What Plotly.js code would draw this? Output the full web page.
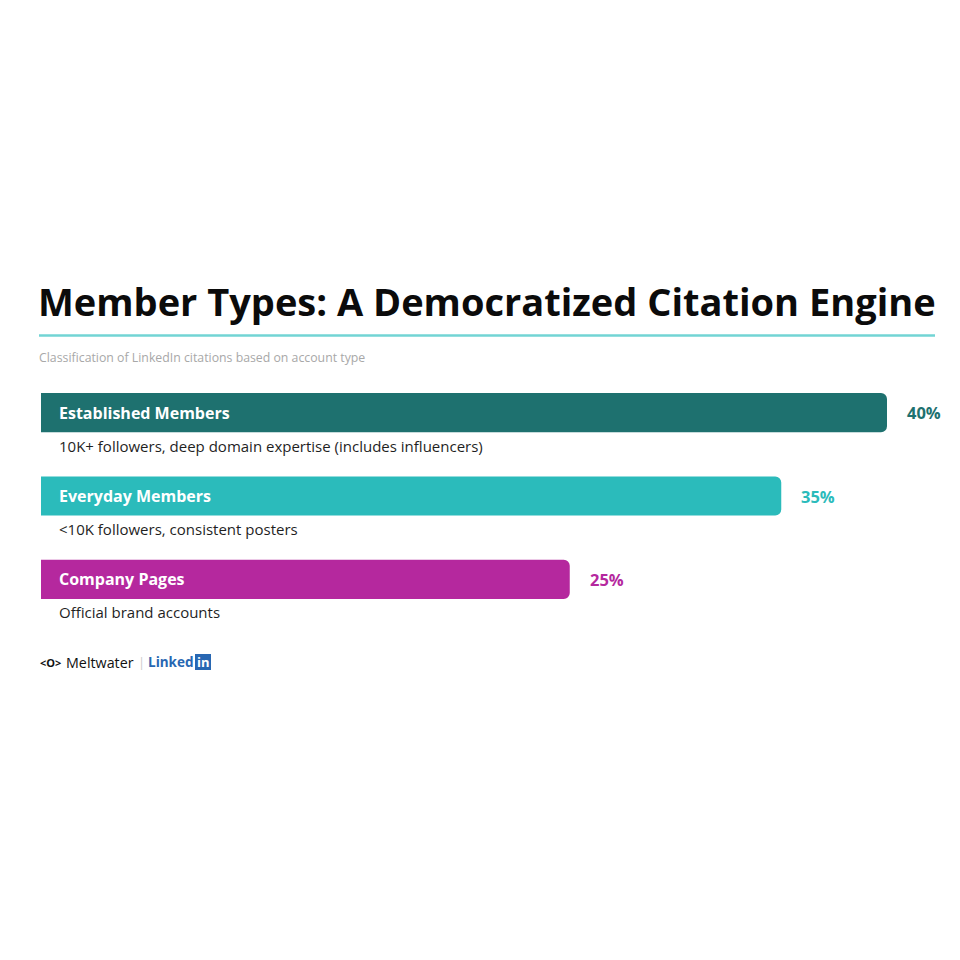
<!DOCTYPE html>
<html>
<head>
<meta charset="utf-8">
<script src="https://cdn.plot.ly/plotly-3.0.1.min.js"></script>
<style>html,body{margin:0;padding:0;background:#fff;}#chart{width:960px;height:960px;}</style>
</head>
<body>
<div id="chart"></div>
<script>
// ---- data ----
const categories = ["Established Members", "Everyday Members", "Company Pages"];
const shares = [40, 35, 25];
const descriptions = [
  "10K+ followers, deep domain expertise (includes influencers)",
  "<10K followers, consistent posters",
  "Official brand accounts"
];
const barColors = ["#1E716F", "#2BBBBB", "#B5289E"];
const titleText = "Member Types: A Democratized Citation Engine";
const subtitleText = "Classification of LinkedIn citations based on account type";

// ---- layout geometry ----
const W = 960, H = 960;
const L = 41, R = 887, T = 371, B = 621;
const px2x = p => (p - L) / (R - L);
const py2y = p => (B - p) / (B - T);
const FONT = "Open Sans, sans-serif";

const trace = {
  type: "bar",
  orientation: "h",
  y: categories,
  x: shares,
  width: 0.47,
  marker: {color: barColors, line: {width: 0}},
  hoverinfo: "skip"
};

const annotations = [];
categories.forEach((c, i) => {
  annotations.push({
    xref: "x", yref: "y", x: 0, y: c, xshift: 16,
    xanchor: "left", yanchor: "middle", showarrow: false,
    text: "<b>" + c + "</b>",
    font: {family: FONT, size: 16, color: "#ffffff"}
  });
  annotations.push({
    xref: "x", yref: "y", x: 0, y: c, xshift: 16, yshift: -33,
    xanchor: "left", yanchor: "middle", showarrow: false,
    text: descriptions[i].replace("<", "&lt;"),
    font: {family: FONT, size: 15, color: "#1f1f1f"}
  });
  annotations.push({
    xref: "x", yref: "y", x: shares[i], y: c, xshift: 18,
    xanchor: "left", yanchor: "middle", showarrow: false,
    text: "<b>" + shares[i] + "%</b>",
    font: {family: FONT, size: 16.5, color: barColors[i]}
  });
});

// subtitle
annotations.push({
  xref: "paper", yref: "paper", x: px2x(37), y: py2y(357),
  xanchor: "left", yanchor: "middle", showarrow: false,
  text: subtitleText,
  font: {family: FONT, size: 12.3, color: "#a8a8a8"}
});

// footer logos
annotations.push({
  xref: "paper", yref: "paper", x: px2x(38), y: py2y(662),
  xanchor: "left", yanchor: "middle", showarrow: false,
  text: "<b>&lt;O&gt;</b>",
  font: {family: FONT, size: 11, color: "#111"}
});
annotations.push({
  xref: "paper", yref: "paper", x: px2x(64), y: py2y(662),
  xanchor: "left", yanchor: "middle", showarrow: false,
  text: "Meltwater",
  font: {family: FONT, size: 14.3, color: "#111"}
});
annotations.push({
  xref: "paper", yref: "paper", x: px2x(141), y: py2y(662),
  xanchor: "center", yanchor: "middle", showarrow: false,
  text: "|",
  font: {family: FONT, size: 13, color: "#cccccc"}
});
annotations.push({
  xref: "paper", yref: "paper", x: px2x(146), y: py2y(662),
  xanchor: "left", yanchor: "middle", showarrow: false,
  text: "<b>Linked</b>",
  font: {family: FONT, size: 13.5, color: "#2867B2"}
});
annotations.push({
  xref: "paper", yref: "paper", x: px2x(203), y: py2y(662),
  xanchor: "center", yanchor: "middle", showarrow: false,
  text: "<b>in</b>",
  font: {family: FONT, size: 13, color: "#ffffff"}
});

const shapes = [
  {type: "line", xref: "paper", yref: "paper",
   x0: px2x(39), x1: px2x(935), y0: py2y(335.5), y1: py2y(335.5),
   line: {color: "#72D4D4", width: 2.5}},
  {type: "rect", xref: "paper", yref: "paper", layer: "below",
   x0: px2x(195), x1: px2x(211), y0: py2y(670), y1: py2y(654),
   fillcolor: "#2867B2", line: {width: 0}}
];

const layout = {
  width: W, height: H,
  paper_bgcolor: "#ffffff", plot_bgcolor: "#ffffff",
  margin: {l: L, r: W - R, t: T, b: H - B, pad: 0},
  title: {
    text: "<b>" + titleText + "</b>",
    xref: "container", yref: "container",
    x: 38 / W, y: 1 - 303 / H, xanchor: "left", yanchor: "middle",
    font: {family: "Open Sans, sans-serif", size: 38, color: "#0b0b0b"}
  },
  xaxis: {range: [0, 40], visible: false, fixedrange: true},
  yaxis: {type: "category", categoryorder: "array", categoryarray: categories,
          range: [2.5, -0.5], visible: false, fixedrange: true},
  barcornerradius: 6,
  showlegend: false,
  annotations: annotations,
  shapes: shapes
};

Plotly.newPlot("chart", [trace], layout, {displayModeBar: false, staticPlot: true});
</script>
</body>
</html>
